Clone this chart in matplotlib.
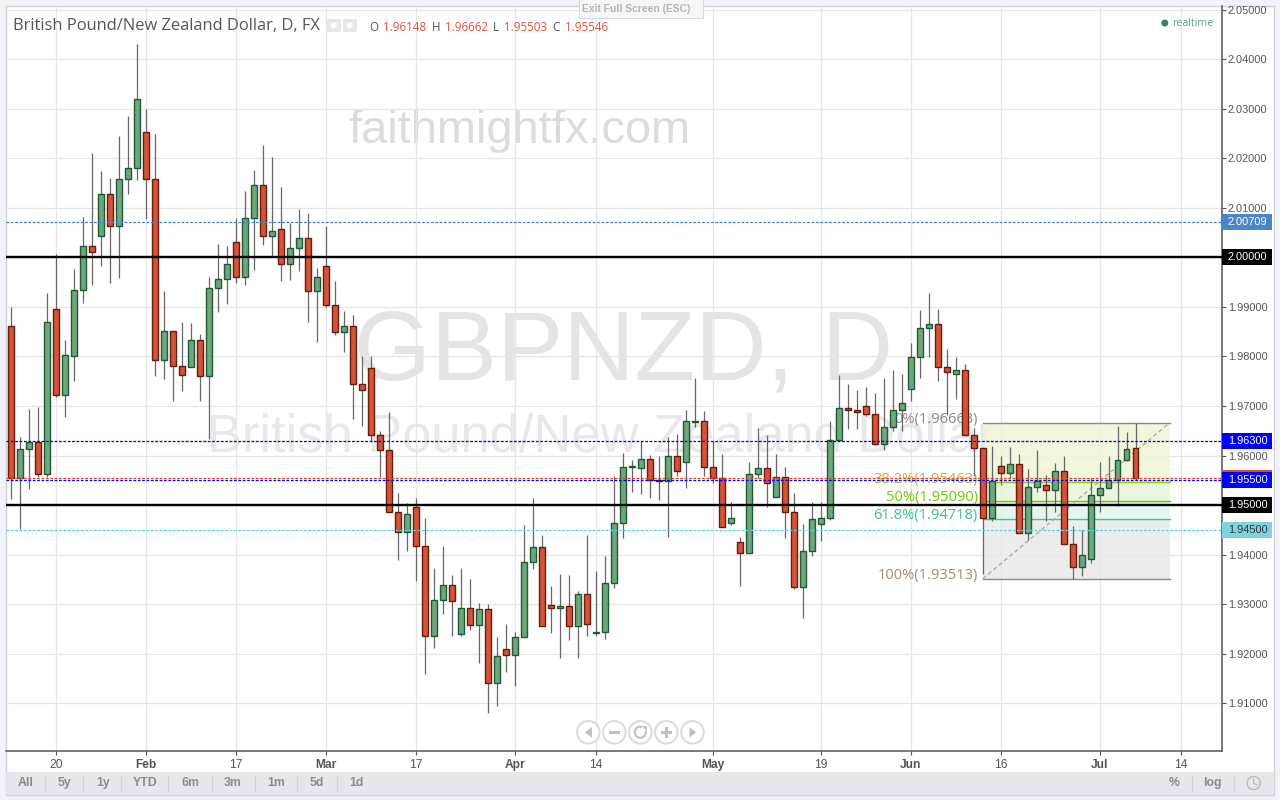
import matplotlib
matplotlib.use("Agg")
import matplotlib.pyplot as plt
from matplotlib.patches import Rectangle, Circle, Arc, Polygon
import numpy as np

# ---------- data ----------
opens = [1.9861,1.9555,1.9613,1.9627,1.9563,1.9895,1.9723,1.9801,1.9935,2.0022,2.0042,2.0127,2.0063,2.0157,2.0180,2.0252,2.0157,1.9792,1.9851,1.9780,1.9778,1.9833,1.9760,1.9939,1.9956,2.0030,1.9960,2.0079,2.0145,2.0042,2.0057,1.9986,2.0018,2.0038,1.9931,1.9982,1.9903,1.9849,1.9861,1.9744,1.9776,1.9641,1.9611,1.9487,1.9445,1.9497,1.9417,1.9235,1.9308,1.9338,1.9239,1.9292,1.9257,1.9290,1.9140,1.9209,1.9197,1.9233,1.9385,1.9415,1.9298,1.9292,1.9296,1.9255,1.9320,1.9241,1.9243,1.9342,1.9463,1.9576,1.9574,1.9592,1.9550,1.9548,1.9598,1.9586,1.9668,1.9669,1.9576,1.9555,1.9463,1.9425,1.9403,1.9562,1.9574,1.9516,1.9556,1.9487,1.9334,1.9407,1.9462,1.9473,1.9631,1.9695,1.9691,1.9699,1.9683,1.9623,1.9657,1.9691,1.9734,1.9798,1.9857,1.9865,1.9778,1.9764,1.9772,1.9641,1.9615,1.9473,1.9578,1.9564,1.9582,1.9443,1.9536,1.9540,1.9530,1.9568,1.9421,1.9376,1.9391,1.9520,1.9534,1.9550,1.9590,1.96148]
closes = [1.9555,1.9613,1.9627,1.9563,1.9869,1.9723,1.9802,1.9935,2.0022,2.0010,2.0127,2.0063,2.0157,2.0180,2.0319,2.0157,1.9792,1.9851,1.9780,1.9762,1.9833,1.9760,1.9939,1.9956,1.9986,1.9960,2.0079,2.0145,2.0042,2.0054,1.9986,2.0018,2.0038,1.9931,1.9960,1.9903,1.9849,1.9861,1.9744,1.9732,1.9641,1.9611,1.9487,1.9445,1.9481,1.9417,1.9235,1.9308,1.9338,1.9306,1.9292,1.9257,1.9290,1.9140,1.9195,1.9197,1.9233,1.9385,1.9415,1.9255,1.9292,1.9296,1.9255,1.9320,1.9259,1.9243,1.9342,1.9463,1.9576,1.9578,1.9592,1.9550,1.9548,1.9598,1.9568,1.9669,1.9669,1.9576,1.9555,1.9455,1.9473,1.9403,1.9562,1.9574,1.9544,1.9556,1.9487,1.9334,1.9407,1.9471,1.9473,1.9631,1.9695,1.9691,1.9687,1.9683,1.9623,1.9657,1.9691,1.9705,1.9798,1.9857,1.9865,1.9778,1.9768,1.9772,1.9641,1.9615,1.9473,1.9548,1.9564,1.9582,1.9443,1.9536,1.9548,1.9530,1.9568,1.9421,1.9376,1.9399,1.9520,1.9534,1.9550,1.9590,1.9613,1.95546]
highs = [1.9900,1.9637,1.9693,1.9697,1.9927,2.0006,1.9833,1.9976,2.0081,2.0210,2.0174,2.0161,2.0244,2.0285,2.0430,2.0299,2.0248,1.9931,1.9851,1.9869,1.9867,1.9845,1.9960,2.0026,2.0022,2.0079,2.0133,2.0176,2.0226,2.0202,2.0141,2.0069,2.0097,2.0089,1.9978,2.0063,1.9952,1.9891,1.9883,1.9800,1.9800,1.9649,1.9687,1.9524,1.9504,1.9514,1.9473,1.9372,1.9417,1.9358,1.9372,1.9350,1.9302,1.9300,1.9233,1.9259,1.9243,1.9459,1.9514,1.9439,1.9336,1.9360,1.9358,1.9326,1.9439,1.9366,1.9397,1.9558,1.9606,1.9590,1.9629,1.9602,1.9600,1.9637,1.9643,1.9692,1.9756,1.9689,1.9629,1.9604,1.9506,1.9435,1.9586,1.9655,1.9641,1.9604,1.9576,1.9524,1.9461,1.9506,1.9506,1.9669,1.9762,1.9744,1.9732,1.9738,1.9726,1.9756,1.9772,1.9764,1.9828,1.9893,1.9927,1.9895,1.9814,1.9798,1.9784,1.9655,1.9615,1.9619,1.9598,1.9617,1.9604,1.9572,1.9611,1.9560,1.9584,1.9598,1.9457,1.9449,1.9554,1.9586,1.9600,1.9659,1.9647,1.96662]
lows = [1.9513,1.9452,1.9533,1.9557,1.9557,1.9719,1.9678,1.9751,1.9908,1.9945,1.9983,1.9949,1.9959,2.0128,2.0156,2.0077,1.9761,1.9755,1.9709,1.9731,1.9778,1.9709,1.9634,1.9889,1.9905,1.9949,1.9945,1.9975,2.0025,2.0001,1.9953,1.9955,1.9973,1.9870,1.9830,1.9899,1.9843,1.9808,1.9674,1.9660,1.9629,1.9557,1.9487,1.9390,1.9407,1.9347,1.9160,1.9212,1.9281,1.9236,1.9236,1.9247,1.9182,1.9081,1.9095,1.9164,1.9134,1.9233,1.9370,1.9255,1.9241,1.9192,1.9228,1.9192,1.9236,1.9236,1.9230,1.9333,1.9434,1.9527,1.9523,1.9515,1.9511,1.9436,1.9559,1.9534,1.9658,1.9558,1.9544,1.9455,1.9459,1.9337,1.9403,1.9554,1.9496,1.9516,1.9434,1.9330,1.9273,1.9398,1.9428,1.9469,1.9631,1.9653,1.9653,1.9679,1.9621,1.9611,1.9649,1.9649,1.9711,1.9756,1.9798,1.9750,1.9681,1.9715,1.9641,1.9558,1.9360,1.9467,1.9540,1.9554,1.9443,1.9430,1.9526,1.9467,1.9487,1.9421,1.9350,1.9357,1.9383,1.9485,1.9534,1.9499,1.9588,1.95503]

date_tick_idx = [5,15,25,35,45,56,65,78,90,100,110,121,130]
date_tick_labels = ["20","Feb","17","Mar","17","Apr","14","May","19","Jun","16","Jul","14"]
month_labels = {"Feb","Mar","Apr","May","Jun","Jul"}
price_ticks = [1.91,1.92,1.93,1.94,1.95,1.96,1.97,1.98,1.99,2.00,2.01,2.02,2.03,2.04,2.05]

fib_levels = [1.96663,1.95463,1.95090,1.94718,1.93513]
fib_labels = ["0%(1.96663)","38.2%(1.95463)","50%(1.95090)","61.8%(1.94718)","100%(1.93513)"]
fib_start, fib_end = 108, 128.8

# ---------- figure ----------
fig = plt.figure(figsize=(12.8,8), dpi=100, facecolor="#f0f3fa")
W,H = 1280,800
SANS = "Liberation Sans"
OPEN = "Open Sans"
def pt(px): return px*0.72

bg = fig.add_axes([0,0,1,1],zorder=-1); bg.set_xlim(0,W); bg.set_ylim(H,0); bg.axis("off")
bg.add_patch(Rectangle((5.5,5.5),1268.5,789,fc="white",ec="#cfd1d6",lw=1))
bg.add_patch(Rectangle((6,772),1267.5,22.5,fc="#e4e7ec",ec="none"))
bg.text(348,143,"faithmightfx.com",color="#dcdcdc",fontsize=pt(47),family=SANS,ha="left",va="baseline")
bg.text(354,380,"GBPNZD, D",color="#e4e4e4",fontsize=pt(99),family=SANS,ha="left",va="baseline")
bg.text(207,452,"British Pound/New Zealand Dollar",color="#e8e8e8",fontsize=pt(52.5),family=SANS,ha="left",va="baseline")

L,R,T,B = 6,1222,6,751
ax = fig.add_axes([L/W,1-B/H,(R-L)/W,(B-T)/H],zorder=1,facecolor="none")
ax.set_xlim(-0.59,134.6); ax.set_ylim(1.90037,2.05071)
for s in ("top","left"): ax.spines[s].set_visible(False)
for s in ("right","bottom"):
    ax.spines[s].set_color("#555555"); ax.spines[s].set_linewidth(1.1)
ax.set_axisbelow(True)
ax.yaxis.tick_right()
ax.set_yticks(price_ticks); ax.set_yticklabels([f"{v:.5f}" for v in price_ticks])
ax.set_xticks(date_tick_idx); ax.set_xticklabels(date_tick_labels)
ax.tick_params(axis="y",length=2.9,width=0.8,color="#555555",labelcolor="#555555",labelsize=pt(11),pad=1.4)
ax.tick_params(axis="x",length=2.9,width=0.8,color="#555555",labelcolor="#555555",labelsize=pt(12),pad=2.8)
for t in ax.get_yticklabels(): t.set_family(SANS)
for t in ax.get_xticklabels():
    t.set_family(SANS)
    if t.get_text() in month_labels: t.set_fontweight("bold")
ax.grid(True,color="#e6e6e6",lw=0.9)

# Fibonacci retracement
fib_fill = ["#eff5d8","#e4f6d8","#e0f5ea","#e9e9e9"]
fib_line = ["#8a8a78","#9cc400","#66cc00","#33cc88","#8a8a8a"]
fib_text = ["#888888","#b9b52e","#66cc00","#3cc08c","#a08c78"]
for i in range(4):
    ax.fill_between([fib_start,fib_end],fib_levels[i+1],fib_levels[i],color=fib_fill[i],alpha=0.85,lw=0,zorder=1)
for i,lv in enumerate(fib_levels):
    ax.plot([fib_start,fib_end],[lv,lv],color=fib_line[i],lw=1,zorder=1.5)
    ax.annotate(fib_labels[i],(fib_start,lv),xytext=(-3.6,2.2),textcoords="offset points",ha="right",va="center",
                color=fib_text[i],fontsize=pt(14.6),family=OPEN,zorder=1.6)
ax.plot([fib_start,fib_end],[fib_levels[4],fib_levels[0]],color="#aaaaaa",lw=1,ls=(0,(3,2)),zorder=1.5)

# Candles
x = np.arange(len(opens))
o,c,h,l = map(np.array,(opens,closes,highs,lows))
up = c>=o
ax.vlines(x,l,h,color="#666666",lw=0.9,zorder=3)
ax.bar(x[up],(c-o)[up],bottom=o[up],width=0.63,color="#6fa67e",edgecolor="#1f5a36",lw=1.0,zorder=4)
ax.bar(x[~up],(c-o)[~up],bottom=o[~up],width=0.63,color="#d2553b",edgecolor="#6a190d",lw=1.0,zorder=4)

# Horizontal levels
dash=(0,(2.2,1.3))
lines=[(2.00709,"#3d85c6",0.9,dash),(1.96300,"#0000c8",0.9,dash),(1.95546,"#e0462a",0.9,dash),
       (1.95500,"#0000ff",0.9,dash),(1.94500,"#57d5e0",0.9,dash),(2.00000,"#000000",1.7,"-"),(1.95000,"#000000",1.7,"-")]
for v,col,lw,ls in lines:
    ax.axhline(v,color=col,lw=lw,ls=ls,zorder=5)

# Price tags
tr=ax.get_yaxis_transform()
tags=[(2.00709,"2.00709","#4a86c8","white"),(2.00000,"2.00000","#000000","white"),(1.96300,"1.96300","#0000ff","white"),
      (1.95546,"","#d8502f","white"),(1.95500,"1.95500","#0000ff","white"),(1.95000,"1.95000","#000000","white"),
      (1.94500,"1.94500","#7fd3e0","#333333")]
boxw=50/(R-L); boxh=16*0.0002018
for v,s,bc,tc in tags:
    ax.add_patch(Rectangle((1.0,v-boxh/2),boxw,boxh,transform=tr,fc=bc,ec="none",clip_on=False,zorder=6))
    ax.text(1.0049,v,s,transform=tr,color=tc,fontsize=pt(11),family=SANS,va="center",ha="left",zorder=7,clip_on=False)

# ---------- overlay ----------
ov = fig.add_axes([0,0,1,1],zorder=5,facecolor="none"); ov.set_xlim(0,W); ov.set_ylim(H,0); ov.axis("off")
ov.text(13,26.5,"British Pound/New Zealand Dollar, D, FX",color="#555555",fontsize=pt(16.45),family=OPEN,va="center",ha="left")
for bx in (327,343):
    ov.add_patch(Rectangle((bx,18.5),13.5,13.5,fc="#e8e8e8",ec="none"))
    ov.add_patch(Circle((bx+6.7,25.2),3,fc="white",ec="none"))
parts=[("O",369.3,"#555555"),("1.96148",383.3,"#e0533c"),("H",431.7,"#555555"),("1.96662",445,"#e0533c"),
       ("L",493,"#555555"),("1.95503",504.3,"#e0533c"),("C",552,"#555555"),("1.95546",565,"#e0533c")]
for s,px,col in parts:
    ov.text(px,27.3,s,color=col,fontsize=pt(11.6),family=OPEN,va="center",ha="left")
ov.add_patch(Circle((1164.8,23),3.5,fc="#2e8b57",ec="none"))
ov.text(1172,24,"realtime",color="#5aa57c",fontsize=pt(10.6),family=OPEN,va="center",ha="left")
# exit-full-screen tab
ov.add_patch(Rectangle((578.5,-3),124.5,21,fc="#f5f6f8",ec="#d8d8d8",lw=0.8))
ov.text(636.5,9.3,"Exit Full Screen (ESC)",color="#b4b4b4",fontsize=pt(10.2),family=SANS,fontweight="bold",va="center",ha="center")
# nav buttons
for cx in (588.3,614.3,640.3,666.3,692.5):
    ov.add_patch(Circle((cx,732.3),11.3,fc="white",ec="#dcdcdc",lw=1.5))
G="#c0c0c0"
ov.add_patch(Polygon([[585,732.3],[592,727],[592,737.6]],fc=G,ec="none"))
ov.add_patch(Rectangle((608.5,731),11.5,2.8,fc=G,ec="none"))
ov.add_patch(Arc((640.3,732.3),11,11,theta1=-20,theta2=290,ec=G,lw=1.5))
ov.add_patch(Polygon([[642,726],[646.5,726],[646.5,731]],fc=G,ec="none"))
ov.add_patch(Rectangle((660.5,731),11.5,2.8,fc=G,ec="none"))
ov.add_patch(Rectangle((664.9,726.5),2.8,11.5,fc=G,ec="none"))
ov.add_patch(Polygon([[696,732.3],[689.5,727],[689.5,737.6]],fc=G,ec="none"))
# toolbar
for s,cx in zip(["All","5y","1y","YTD","6m","3m","1m","5d","1d"],[25.7,65,103,145,190,233,276,317,356]):
    ov.text(cx,783,s,color="#8a8a8a",fontsize=pt(12.3),family=SANS,fontweight="bold",ha="center",va="center")
for sx in (45.3,83.3,121.3,168.3,211.7,254.7,297.3,336.7,1191.7,1233.7):
    ov.plot([sx,sx],[775.5,791],color="#d0d2d6",lw=0.8)
ov.text(1173.7,783,"%",color="#8a8a8a",fontsize=pt(12.3),family=SANS,fontweight="bold",ha="center",va="center")
ov.text(1212.7,783,"log",color="#8a8a8a",fontsize=pt(12.3),family=SANS,fontweight="bold",ha="center",va="center")
ov.add_patch(Circle((1253.7,783),6.6,fc="none",ec="#b5b5b5",lw=0.9))
ov.plot([1253.7,1253.7,1257],[778.8,783.4,785],color="#b5b5b5",lw=0.8)

fig.savefig("out.png",dpi=100,facecolor=fig.get_facecolor())
